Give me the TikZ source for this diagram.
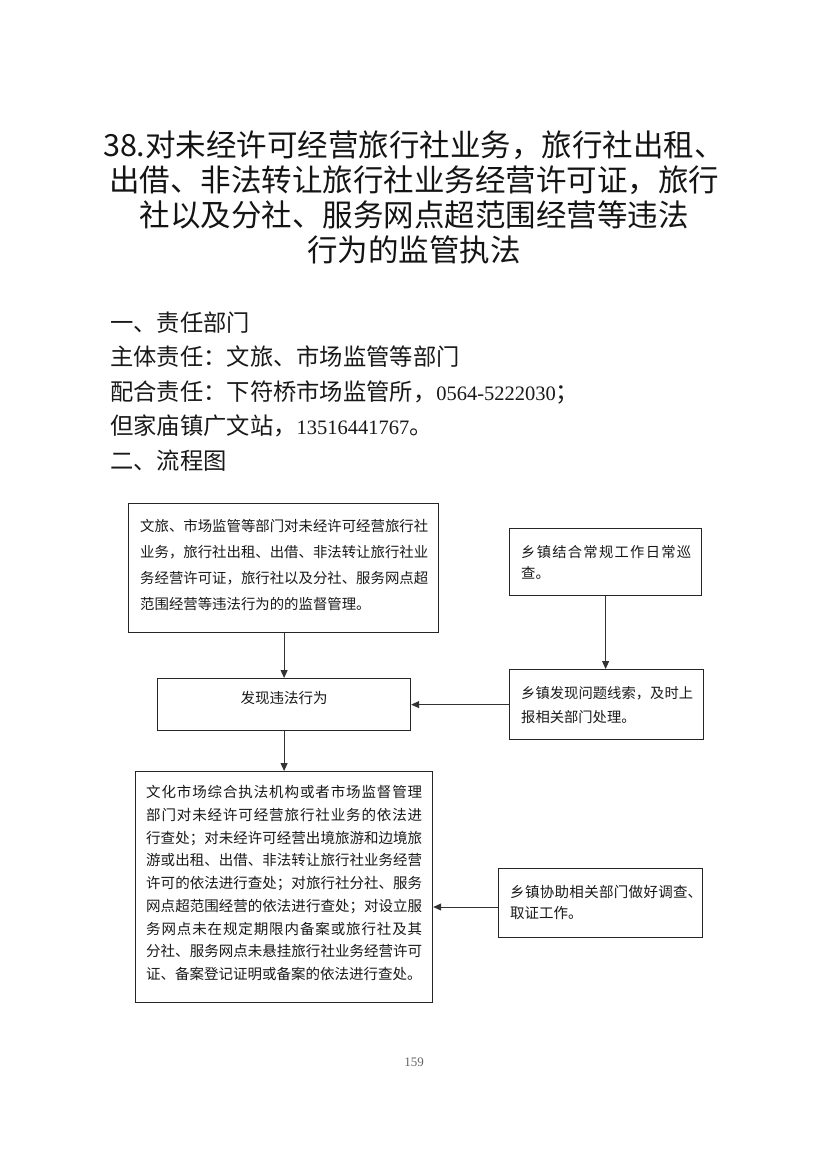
\documentclass[tikz,border=0pt]{standalone}
\usepackage{fontspec}
\setmainfont{Noto Sans CJK SC}
\newfontfamily\numfont{Liberation Serif}
\usetikzlibrary{arrows.meta}
\XeTeXlinebreaklocale "zh"
\XeTeXlinebreakskip=0pt plus 4pt
\tikzset{
  box/.style={draw=black!85, line width=1.2pt, inner sep=0pt, anchor=north west},
  txt/.style={inner sep=0pt, anchor=base west, text=black!90},
  arr/.style={draw=black!80, line width=0.9pt, -{Triangle[length=8pt,width=7pt]}},
}
% #1 width, #2 font size, #3 skip, #4 text
\newcommand{\tb}[4]{\parbox[t]{#1}{\fontsize{#2}{#3}\selectfont\emergencystretch=20pt #4\par}}
\begin{document}
\begin{tikzpicture}[x=1pt,y=-1pt]
\useasboundingbox[fill=white] (0,0) rectangle (828,1162);
% title
\node[inner sep=0pt, anchor=base, text=black!92] (title) at (414,156.6)
  {\parbox[t]{700pt}{\centering\fontsize{30.5}{35}\selectfont
  38.对未经许可经营旅行社业务，旅行社出租、\\
  出借、非法转让旅行社业务经营许可证，旅行\\
  社以及分社、服务网点超范围经营等违法\\
  行为的监管执法\par}};
% sections
\node[txt] (sec) at (110,331)
  {\parbox[t]{600pt}{\fontsize{23.3}{34.5}\selectfont
  一、责任部门\\
  主体责任：文旅、市场监管等部门\\
  配合责任：下符桥市场监管所，{\numfont\fontsize{20.5}{34.5}\selectfont 0564-5222030}；\\
  但家庙镇广文站，{\numfont\fontsize{20.5}{34.5}\selectfont 13516441767}。\\
  二、流程图\par}};
% boxes
\node[box, minimum width=310pt, minimum height=129pt] (b1) at (128,503) {};
\node[txt] (t1) at (140,531.5) {\tb{288pt}{14.4}{26}{文旅、市场监管等部门对未经许可经营旅行社\linebreak
业务，旅行社出租、出借、非法转让旅行社业\linebreak
务经营许可证，旅行社以及分社、服务网点超\linebreak
范围经营等违法行为的的监督管理。}};

\node[box, minimum width=192pt, minimum height=67pt] (b2) at (509,528) {};
\node[txt] (t2) at (521,557.5) {\tb{170pt}{14.3}{21}{乡镇结合常规工作日常巡\linebreak 查。}};

\node[box, minimum width=194pt, minimum height=70pt] (b3) at (509,669) {};
\node[txt] (t3) at (521,698.5) {\tb{172pt}{14.3}{24}{乡镇发现问题线索，及时上\linebreak 报相关部门处理。}};

\node[box, minimum width=253pt, minimum height=52pt] (bf) at (157,678) {};
\node[inner sep=0pt, anchor=base, text=black!90, font=\fontsize{14.5}{17}\selectfont] (tf) at (284,703.5) {发现违法行为};

\node[box, minimum width=297pt, minimum height=231pt] (b4) at (135,771) {};
\node[txt] (t4) at (146,797.5) {\tb{276pt}{14.5}{22.75}{%
文化市场综合执法机构或者市场监督管理\linebreak
部门对未经许可经营旅行社业务的依法进\linebreak
行查处；对未经许可经营出境旅游和边境旅\linebreak
游或出租、出借、非法转让旅行社业务经营\linebreak
许可的依法进行查处；对旅行社分社、服务\linebreak
网点超范围经营的依法进行查处；对设立服\linebreak
务网点未在规定期限内备案或旅行社及其\linebreak
分社、服务网点未悬挂旅行社业务经营许可\linebreak
证、备案登记证明或备案的依法进行查处。}};

\node[box, minimum width=204pt, minimum height=69pt] (b5) at (498,868) {};
\node[txt] (t5) at (510,897.5) {\tb{192pt}{14.5}{21}{乡镇协助相关部门做好调查、\linebreak 取证工作。}};

% arrows
\draw[arr] (bf.north |- b1.south) -- (bf.north);
\draw[arr] (b2.south) -- (b2.south |- b3.north);
\draw[arr] (b3.west) -- (bf.east);
\draw[arr] (bf.south) -- (b4.north);
\draw[arr] (b5.west |- 0,907) -- (b4.east |- 0,907);

% page number
\node[inner sep=0pt, anchor=base, text=black!60, font=\numfont\fontsize{13}{15}\selectfont] (pg) at (414,1066) {159};
\end{tikzpicture}
\end{document}
